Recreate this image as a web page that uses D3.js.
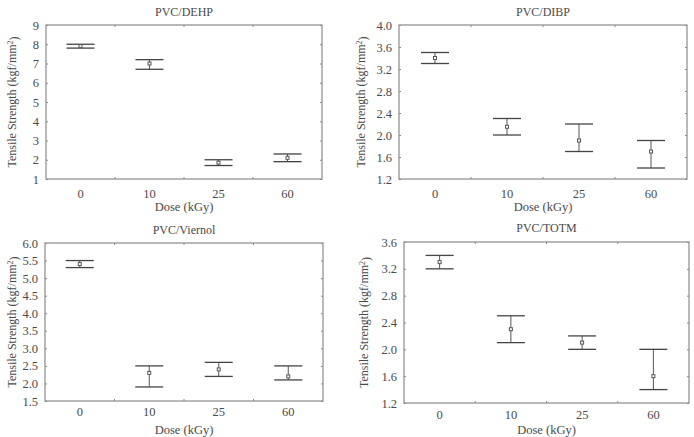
<!DOCTYPE html>
<html>
<head>
<meta charset="utf-8">
<script src="https://cdn.jsdelivr.net/npm/d3@7"></script>
<style>
  body { margin: 0; background: #fff; }
</style>
</head>
<body>
<svg id="chart" width="694" height="437"></svg>
<script>
// categories
const doses = ["0", "10", "25", "60"];

// panel titles
const titles = ["PVC/DEHP", "PVC/DIBP", "PVC/Viernol", "PVC/TOTM"];

// mean values (center markers)
const meanDEHP = [7.9, 7.0, 1.85, 2.1];
const meanDIBP = [3.4, 2.15, 1.9, 1.7];
const meanViernol = [5.4, 2.3, 2.4, 2.2];
const meanTOTM = [3.3, 2.3, 2.1, 1.6];

// upper whisker
const upDEHP = [8.0, 7.2, 2.0, 2.3];
const upDIBP = [3.5, 2.3, 2.2, 1.9];
const upViernol = [5.5, 2.5, 2.6, 2.5];
const upTOTM = [3.4, 2.5, 2.2, 2.0];

// lower whisker
const lowDEHP = [7.8, 6.7, 1.7, 1.9];
const lowDIBP = [3.3, 2.0, 1.7, 1.4];
const lowViernol = [5.3, 1.9, 2.2, 2.1];
const lowTOTM = [3.2, 2.1, 2.0, 1.4];

// y tick values
const ticksDEHP = [1, 2, 3, 4, 5, 6, 7, 8, 9];
const ticksDIBP = [1.2, 1.6, 2.0, 2.4, 2.8, 3.2, 3.6, 4.0];
const ticksViernol = [1.5, 2.0, 2.5, 3.0, 3.5, 4.0, 4.5, 5.0, 5.5, 6.0];
const ticksTOTM = [1.2, 1.6, 2.0, 2.4, 2.8, 3.2, 3.6];

const panels = [
    {title: titles[0], mean: meanDEHP, up: upDEHP, low: lowDEHP, ticks: ticksDEHP, fmt: d3.format("d"),
     box: {left: 46, right: 322, top: 25, bottom: 179}, titleY: 16, tickY: 198, labelY: 211, ylabX: 12},
    {title: titles[1], mean: meanDIBP, up: upDIBP, low: lowDIBP, ticks: ticksDIBP, fmt: d3.format(".1f"),
     box: {left: 399, right: 687, top: 25, bottom: 179}, titleY: 16, tickY: 198, labelY: 211, ylabX: 361},
    {title: titles[2], mean: meanViernol, up: upViernol, low: lowViernol, ticks: ticksViernol, fmt: d3.format(".1f"),
     box: {left: 45, right: 323, top: 243, bottom: 401}, titleY: 234, tickY: 416, labelY: 434, ylabX: 12},
    {title: titles[3], mean: meanTOTM, up: upTOTM, low: lowTOTM, ticks: ticksTOTM, fmt: d3.format(".1f"),
     box: {left: 404, right: 689, top: 242, bottom: 403}, titleY: 232, tickY: 419, labelY: 434, ylabX: 364}
];

let svg = d3.select("#chart");
let font = "'Liberation Serif', 'DejaVu Serif', serif";
let textColor = "#4a4a4a";
let frameColor = "#8a8a8a";
let tickLen = 2;
let capHalf = 14;

panels.forEach(function (p) {
    let b = p.box;
    let g = svg.append("g");

    let xScale = d3.scaleBand()
        .domain(doses)
        .range([b.left, b.right]);

    let yScale = d3.scaleLinear()
        .domain([p.ticks[0], p.ticks[p.ticks.length - 1]])
        .range([b.bottom, b.top]);

    // frame
    g.append("rect")
        .attr("x", b.left)
        .attr("y", b.top)
        .attr("width", b.right - b.left)
        .attr("height", b.bottom - b.top)
        .attr("fill", "none")
        .attr("stroke", frameColor)
        .attr("stroke-width", 1.2);

    // left axis labels with inward ticks
    let yAxis = d3.axisLeft(yScale)
        .tickValues(p.ticks)
        .tickFormat(p.fmt)
        .tickSizeInner(-tickLen)
        .tickSizeOuter(0)
        .tickPadding(7);
    let ya = g.append("g")
        .attr("transform", "translate(" + b.left + ",0)")
        .call(yAxis);
    ya.select(".domain").remove();
    ya.selectAll("line").attr("stroke", frameColor);
    ya.selectAll("text")
        .style("font-family", font)
        .style("font-size", "12.5px")
        .attr("fill", textColor);

    // right side ticks
    let yAxisR = d3.axisRight(yScale)
        .tickValues(p.ticks)
        .tickFormat("")
        .tickSizeInner(-tickLen)
        .tickSizeOuter(0);
    let yr = g.append("g")
        .attr("transform", "translate(" + b.right + ",0)")
        .call(yAxisR);
    yr.select(".domain").remove();
    yr.selectAll("line").attr("stroke", frameColor);

    // ticks between categories on top and bottom
    let bounds = doses.slice(1).map(function (d) { return xScale(d); });
    [[b.bottom, -tickLen], [b.top, tickLen]].forEach(function (side) {
        g.selectAll(null)
            .data(bounds)
            .enter()
            .append("line")
            .attr("x1", function (d) { return d; })
            .attr("x2", function (d) { return d; })
            .attr("y1", side[0])
            .attr("y2", side[0] + side[1])
            .attr("stroke", frameColor);
    });

    // category labels
    g.selectAll(null)
        .data(doses)
        .enter()
        .append("text")
        .attr("x", function (d) { return xScale(d) + xScale.bandwidth() / 2; })
        .attr("y", p.tickY)
        .attr("text-anchor", "middle")
        .style("font-family", font)
        .style("font-size", "12.5px")
        .attr("fill", textColor)
        .text(function (d) { return d; });

    // title
    g.append("text")
        .attr("x", (b.left + b.right) / 2)
        .attr("y", p.titleY)
        .attr("text-anchor", "middle")
        .style("font-family", font)
        .style("font-size", "12px")
        .attr("fill", textColor)
        .text(p.title);

    // x axis label
    g.append("text")
        .attr("x", (b.left + b.right) / 2)
        .attr("y", p.labelY)
        .attr("text-anchor", "middle")
        .style("font-family", font)
        .style("font-size", "12.5px")
        .attr("fill", textColor)
        .text("Dose (kGy)");

    // y axis label
    let yl = g.append("text")
        .attr("transform", "translate(" + p.ylabX + "," + ((b.top + b.bottom) / 2) + ") rotate(-90)")
        .attr("text-anchor", "middle")
        .attr("dy", "0.35em")
        .style("font-family", font)
        .style("font-size", "12px")
        .attr("fill", textColor);
    yl.append("tspan").text("Tensile Strength (kgf/mm");
    yl.append("tspan").attr("dy", "-0.4em").style("font-size", "8px").text("2");
    yl.append("tspan").attr("dy", "0.4em").text(")");

    // error bars
    let rows = doses.map(function (d, i) {
        return {dose: d, mean: p.mean[i], up: p.up[i], low: p.low[i]};
    });
    let cx = function (d) { return xScale(d.dose) + xScale.bandwidth() / 2; };

    let bars = g.selectAll(null)
        .data(rows)
        .enter()
        .append("g");

    bars.append("line")
        .attr("x1", cx)
        .attr("x2", cx)
        .attr("y1", function (d) { return yScale(d.up); })
        .attr("y2", function (d) { return yScale(d.low); })
        .attr("stroke", "#555")
        .attr("stroke-width", 1);
    ["up", "low"].forEach(function (k) {
        bars.append("line")
            .attr("x1", function (d) { return cx(d) - capHalf; })
            .attr("x2", function (d) { return cx(d) + capHalf; })
            .attr("y1", function (d) { return yScale(d[k]); })
            .attr("y2", function (d) { return yScale(d[k]); })
            .attr("stroke", "#444")
            .attr("stroke-width", 1.3);
    });
    bars.append("rect")
        .attr("x", function (d) { return cx(d) - 1.5; })
        .attr("y", function (d) { return yScale(d.mean) - 1.5; })
        .attr("width", 3)
        .attr("height", 3)
        .attr("fill", "#fff")
        .attr("stroke", "#555")
        .attr("stroke-width", 1);
});
</script>
</body>
</html>
